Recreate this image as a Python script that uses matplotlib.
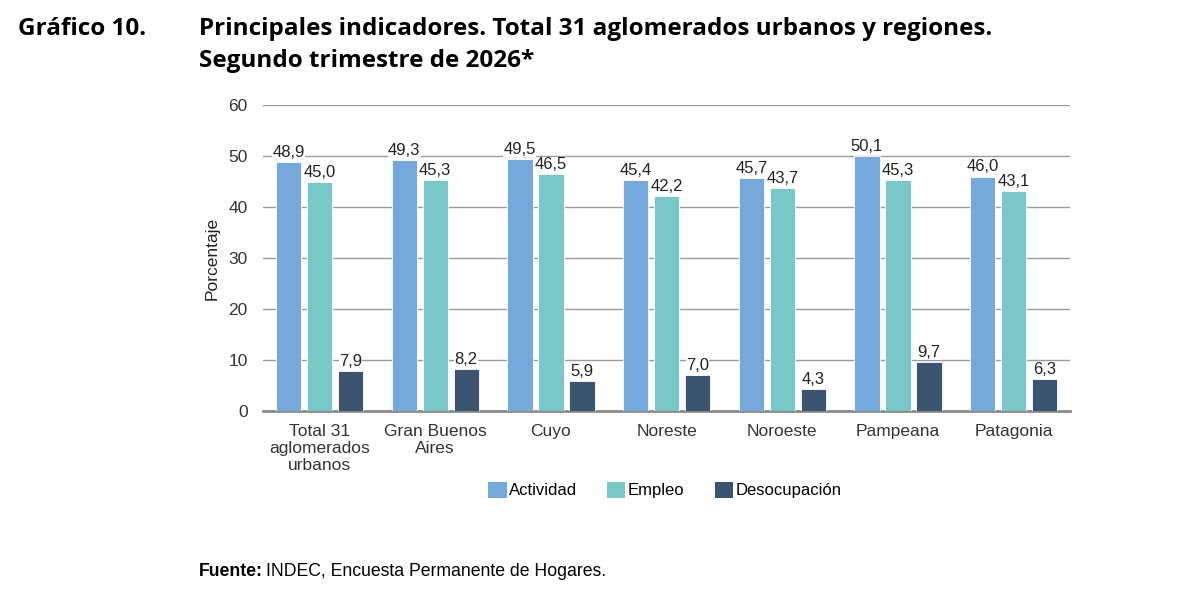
import matplotlib.pyplot as plt
import numpy as np
from matplotlib.patches import Patch

plt.rcParams["font.family"] = ["Liberation Sans", "DejaVu Sans"]

# datos
regiones = ["Total 31\naglomerados\nurbanos", "Gran Buenos\nAires", "Cuyo",
            "Noreste", "Noroeste", "Pampeana", "Patagonia"]
actividad = [48.9, 49.3, 49.5, 45.4, 45.7, 50.1, 46.0]
empleo = [45.0, 45.3, 46.5, 42.2, 43.7, 45.3, 43.1]
desocupacion = [7.9, 8.2, 5.9, 7.0, 4.3, 9.7, 6.3]
series = ["Actividad", "Empleo", "Desocupación"]

COLOR_ACT = "#76a9db"
COLOR_EMP = "#79c7c9"
COLOR_DES = "#3b5570"
colores = [COLOR_ACT, COLOR_EMP, COLOR_DES]

fig = plt.figure(figsize=(12, 5.94), dpi=100)
ax = fig.add_axes([0.219, 0.308, 0.673, 0.515])

x = np.arange(len(regiones))
ancho = 0.218
desplaz = 0.268

for i, (vals, col) in enumerate(zip([actividad, empleo, desocupacion], colores)):
    pos = x + (i - 1) * desplaz
    ax.bar(pos, vals, width=ancho, color=col, edgecolor="white",
           linewidth=0.6, zorder=3)
    for p, v in zip(pos, vals):
        ax.text(p, v + 0.4, f"{v:.1f}".replace(".", ","), ha="center",
                va="bottom", fontsize=12, color="#222222", zorder=4,
                bbox=dict(facecolor="white", edgecolor="none", pad=0.3))

ax.set_ylim(0, 60)
ax.set_xlim(-0.49, 6.49)
ax.set_yticks(range(0, 61, 10))
ax.yaxis.grid(True, color="#9a9a9a", linewidth=1.0, zorder=0)
ax.set_axisbelow(True)
for s in ["top", "right", "left"]:
    ax.spines[s].set_visible(False)
ax.spines["bottom"].set_color("#8a8a8a")
ax.spines["bottom"].set_linewidth(2)
ax.tick_params(axis="both", length=0, labelsize=12.5, colors="#333333")
ax.tick_params(axis="y", pad=11)
ax.tick_params(axis="x", pad=9)
ax.set_xticks(x)
ax.set_xticklabels(regiones, linespacing=1.2)
ax.set_ylabel("Porcentaje", fontsize=12.5, color="#222222", labelpad=6)

handles = [Patch(facecolor=c, label=s) for c, s in zip(colores, series)]
fig.legend(handles=handles, loc="center", bbox_to_anchor=(0.554, 0.175),
           ncol=3, frameon=False, fontsize=12, handlelength=1.1,
           handleheight=1.1, handletextpad=0.15, columnspacing=1.8)

# titulos
fuente_titulo = ["Open Sans", "DejaVu Sans"]
fig.text(0.015, 0.952, "Gráfico 10.", fontsize=17.5, fontweight="bold",
         family=fuente_titulo, va="center")
fig.text(0.166, 0.952, "Principales indicadores. Total 31 aglomerados urbanos y regiones.",
         fontsize=17.5, fontweight="bold", family=fuente_titulo, va="center")
fig.text(0.166, 0.897, "Segundo trimestre de 2026*", fontsize=17.5, fontweight="bold",
         family=fuente_titulo, va="center")

fig.text(0.166, 0.038, "Fuente:", fontsize=12.7, fontweight="bold", va="center")
fig.text(0.222, 0.038, "INDEC, Encuesta Permanente de Hogares.", fontsize=12.7,
         va="center")

fig.savefig("out.png", dpi=100)
